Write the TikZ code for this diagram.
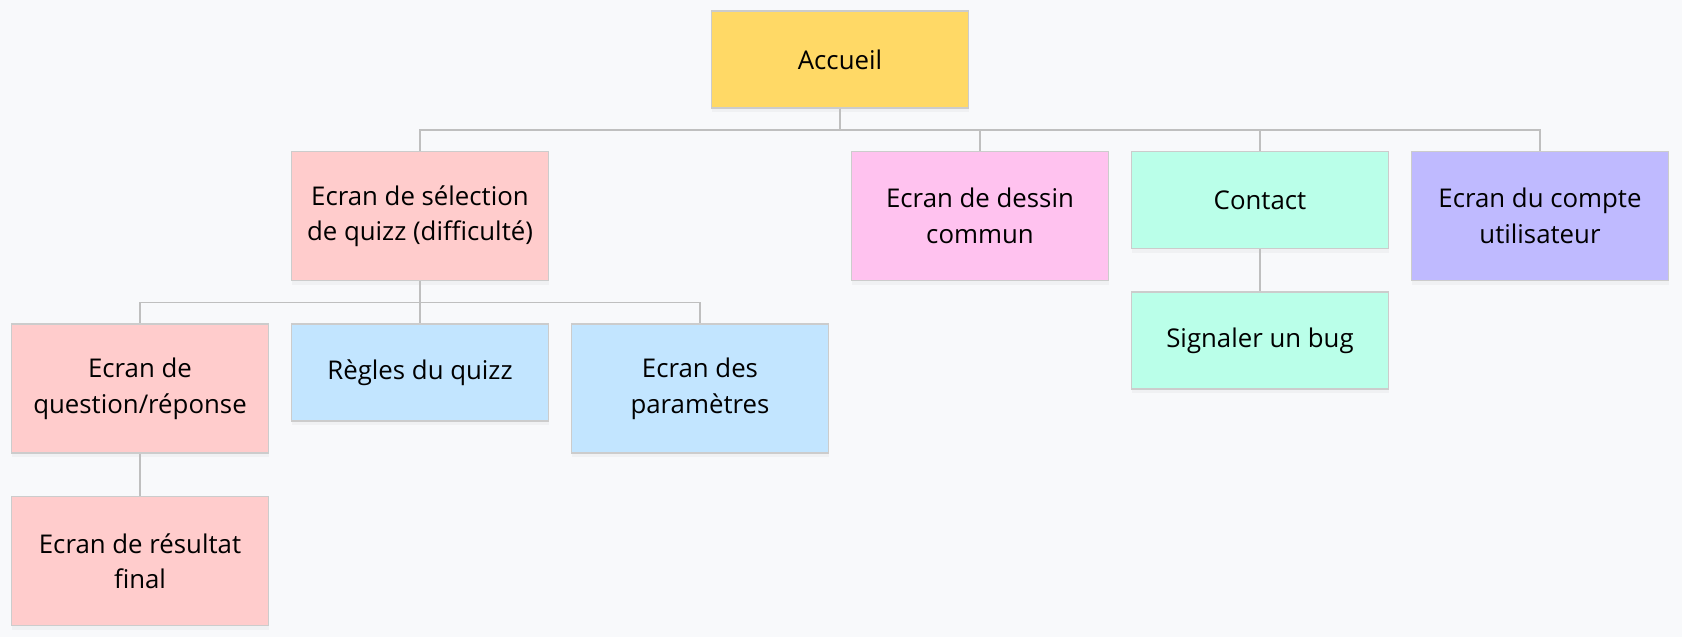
\documentclass[tikz,border=0pt]{standalone}
\usepackage{fontspec}
\setmainfont{Open Sans}
\usetikzlibrary{positioning, shadows}
\definecolor{bgcol}{HTML}{F8F9FB}
\definecolor{edgecol}{HTML}{CCCCCC}
\definecolor{linkcol}{HTML}{BFBFBF}
\definecolor{yellowcol}{HTML}{FFD966}
\definecolor{pinkcol}{HTML}{FFCCCC}
\definecolor{magentacol}{HTML}{FFC2EF}
\definecolor{bluecol}{HTML}{C2E5FF}
\definecolor{mintcol}{HTML}{BAFFE9}
\definecolor{lavendercol}{HTML}{BFBAFF}
\tikzstyle{base} = [rectangle, minimum width=128.5pt, minimum height=48.5pt, text centered,
 align=center, draw=edgecol, line width=0.75pt, inner sep=4pt,
 font=\fontsize{12.9}{17.9}\selectfont,
 drop shadow={opacity=0.06, shadow xshift=0pt, shadow yshift=-2pt}]
\tikzstyle{tall} = [base, minimum height=64.5pt]
\tikzstyle{line} = [draw=linkcol, line width=0.75pt]

\begin{document}
\begin{tikzpicture}[node distance=21pt]

\fill[bgcol] (0,0) rectangle (841pt,-318.5pt);
\useasboundingbox (0,0) rectangle (841pt,-318.5pt);

\node (ACCUEIL) [base, fill=yellowcol] at (420pt,-29.85pt) {Accueil};

\node (SEL) [tall, fill=pinkcol, below=of ACCUEIL, xshift=-210pt]
    {Ecran de sélection\\de quizz (difficulté)};
\node (DESSIN) [tall, fill=magentacol, below=of ACCUEIL, xshift=70pt]
    {Ecran de dessin\\commun};
\node (CONTACT) [base, fill=mintcol, below=of ACCUEIL, xshift=210pt] {Contact};
\node (COMPTE) [tall, fill=lavendercol, below=of ACCUEIL, xshift=350pt]
    {Ecran du compte\\utilisateur};

\node (QUESTION) [tall, fill=pinkcol, below=of SEL, xshift=-140pt]
    {Ecran de\\question/réponse};
\node (REGLES) [base, fill=bluecol, below=of SEL] {Règles du quizz};
\node (PARAMS) [tall, fill=bluecol, below=of SEL, xshift=140pt]
    {Ecran des\\paramètres};

\node (RESULTAT) [tall, fill=pinkcol, below=of QUESTION]
    {Ecran de résultat\\final};
\node (BUG) [base, fill=mintcol, below=of CONTACT] {Signaler un bug};

% Links
\draw[line] (ACCUEIL.south) -- ++(0,-10.5pt) -| (SEL.north);
\draw[line] (ACCUEIL.south) -- ++(0,-10.5pt) -| (DESSIN.north);
\draw[line] (ACCUEIL.south) -- ++(0,-10.5pt) -| (CONTACT.north);
\draw[line] (ACCUEIL.south) -- ++(0,-10.5pt) -| (COMPTE.north);

\draw[line] (SEL.south) -- ++(0,-10.5pt) -| (QUESTION.north);
\draw[line] (SEL.south) -- (REGLES.north);
\draw[line] (SEL.south) -- ++(0,-10.5pt) -| (PARAMS.north);

\draw[line] (QUESTION.south) -- (RESULTAT.north);
\draw[line] (CONTACT.south) -- (BUG.north);

\end{tikzpicture}
\end{document}
